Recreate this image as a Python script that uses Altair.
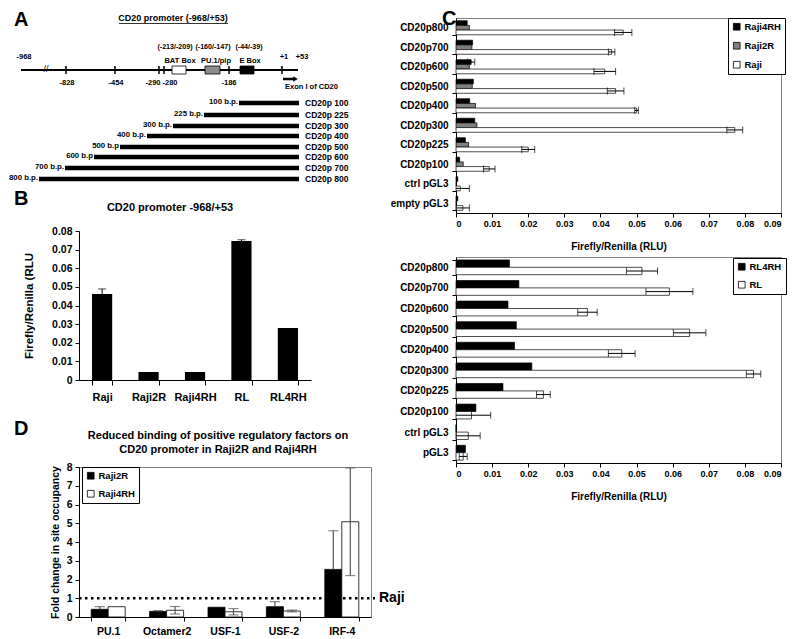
import altair as alt
import pandas as pd

FONT = "Liberation Sans"

# ---------------- Panel A: CD20 promoter map (schematic diagram coordinates) ----------------
a_title = "CD20 promoter (-968/+53)"
a_site_labels = ["-828", "-454", "-186"]
a_site_pos = [65, 114, 228]
a_site_pair_labels = ["-290", "-280"]
a_site_pair_pos = [158, 163]
a_tss_pos = 281
a_top_labels = ["-968", "+1", "+53"]
a_top_pos = [23, 283, 301]
a_element_names = ["BAT Box", "PU.1/pip", "E Box"]
a_element_coords = ["(-213/-209)", "(-160/-147)", "(-44/-39)"]
a_element_from = [171, 204, 239]
a_element_to = [185, 219, 253]
a_fragment_names = ["CD20p 100", "CD20p 225", "CD20p 300", "CD20p 400",
                    "CD20p 500", "CD20p 600", "CD20p 700", "CD20p 800"]
a_fragment_sizes = ["100 b.p.", "225 b.p.", "300 b.p.", "400 b.p.",
                    "500 b.p", "600 b.p", "700 b.p.", "800 b.p."]
a_fragment_from = [238, 203, 172, 146, 119, 93, 64, 38]
a_fragment_row = [100, 112, 123, 133, 144, 154, 165, 176]

# ---------------- Panel B ----------------
b_title = "CD20 promoter -968/+53"
b_lines = ["Raji", "Raji2R", "Raji4RH", "RL", "RL4RH"]
b_values = [0.0462, 0.0043, 0.0043, 0.0746, 0.0279]
b_errors = [0.0027, 0.0, 0.0, 0.0007, 0.0]
b_ticks = [0, 0.01, 0.02, 0.03, 0.04, 0.05, 0.06, 0.07, 0.08]

# ---------------- Panel C (top) ----------------
c_constructs = ["CD20p800", "CD20p700", "CD20p600", "CD20p500", "CD20p400",
                "CD20p300", "CD20p225", "CD20p100", "ctrl pGL3", "empty pGL3"]
c_series = ["Raji4RH", "Raji2R", "Raji"]
c_raji4rh = [0.0031, 0.0046, 0.0042, 0.0048, 0.0038, 0.0052, 0.0026, 0.0010, 0.0005, 0.0005]
c_raji4rh_err = [0, 0, 0.0010, 0, 0, 0, 0, 0, 0, 0]
c_raji2r = [0.0037, 0.0044, 0.0037, 0.0045, 0.0054, 0.0058, 0.0035, 0.0020, 0.0001, 0.0001]
c_raji2r_err = [0, 0, 0, 0, 0, 0, 0, 0, 0, 0]
c_raji = [0.0463, 0.0431, 0.0412, 0.0442, 0.0500, 0.0772, 0.0200, 0.0092, 0.0012, 0.0019]
c_raji_err = [0.0024, 0.0009, 0.0030, 0.0023, 0.0005, 0.0022, 0.0018, 0.0016, 0.0025, 0.0018]

# ---------------- Panel C (bottom) ----------------
cb_constructs = ["CD20p800", "CD20p700", "CD20p600", "CD20p500", "CD20p400",
                 "CD20p300", "CD20p225", "CD20p100", "ctrl pGL3", "pGL3"]
cb_series = ["RL4RH", "RL"]
cb_rl4rh = [0.0148, 0.0174, 0.0144, 0.0167, 0.0162, 0.0210, 0.0130, 0.0055, 0.0, 0.0026]
cb_rl4rh_err = [0, 0, 0, 0, 0, 0, 0, 0, 0, 0]
cb_rl = [0.0515, 0.0591, 0.0364, 0.0647, 0.0459, 0.0824, 0.0242, 0.0043, 0.0034, 0.0020]
cb_rl_err = [0.0043, 0.0065, 0.0027, 0.0045, 0.0037, 0.0020, 0.0019, 0.0053, 0.0033, 0.0011]
c_ticks = [0, 0.01, 0.02, 0.03, 0.04, 0.05, 0.06, 0.07, 0.08, 0.09]

# ---------------- Panel D ----------------
d_title = ["Reduced binding of positive regulatory factors on",
           "CD20 promoter in Raji2R and Raji4RH"]
d_factors = ["PU.1", "Octamer2", "USF-1", "USF-2", "IRF-4"]
d_series = ["Raji2R", "Raji4RH"]
d_raji2r = [0.41, 0.30, 0.52, 0.55, 2.54]
d_raji2r_err = [0.14, 0.04, 0.0, 0.27, 2.06]
d_raji4rh = [0.55, 0.36, 0.28, 0.32, 5.08]
d_raji4rh_err = [0.0, 0.20, 0.17, 0.05, 2.87]
d_ticks = [0, 1, 2, 3, 4, 5, 6, 7, 8]
d_reference = ["Raji"]

NUM_EXPR = "datum.value == 0 ? '0' : format(datum.value, '.2f')"

INDEP = dict(x="independent", y="independent", color="independent", fill="independent",
             xOffset="independent", yOffset="independent")


def text_chart(df, align="center", size=7.5, baseline="middle", dx=0, dy=0, weight="bold"):
    return alt.Chart(df).mark_text(align=align, baseline=baseline, fontSize=size,
                                   fontWeight=weight, font=FONT, dx=dx, dy=dy, color="black")


def const_text(label, x, y, size, align="left", baseline="alphabetic", line_height=None):
    kw = dict(align=align, baseline=baseline, fontSize=size, fontWeight="bold",
              font=FONT, color="black")
    if line_height is not None:
        kw["lineHeight"] = line_height
        kw["lineBreak"] = "|"
    return alt.Chart(pd.DataFrame({"t": [label]})).mark_text(**kw).encode(
        x=alt.value(x), y=alt.value(y), text="t:N")


def legend(x, y, row_pad):
    return alt.Legend(title=None, orient="none", legendX=x, legendY=y, fillColor="white",
                      strokeColor="black", padding=4, symbolType="square", symbolSize=45,
                      symbolStrokeColor="black", symbolStrokeWidth=0.8, labelFontSize=9.5,
                      rowPadding=row_pad, labelOffset=3)


# ======================= Panel A =======================
AX = alt.Scale(domain=[78, 330], nice=False, zero=False)
AY = alt.Scale(domain=[15, 141], nice=False, zero=False, reverse=True)


def ax(f):
    return alt.X(f, scale=AX, axis=None)


def ay(f):
    return alt.Y(f, scale=AY, axis=None)


def a_text(labels, xs, ys, **kw):
    return text_chart(pd.DataFrame({"t": labels, "x": xs, "y": ys}), **kw).encode(
        x=ax("x:Q"), y=ay("y:Q"), text="t:N")


LINE_Y = 67
a_layers = [
    a_text(["A"], [13], [23], align="left", size=20, baseline="alphabetic"),
    a_text([a_title], [172], [15], size=9),
    alt.Chart(pd.DataFrame({"x": [118], "x2": [227], "y": [20.5]}))
    .mark_rule(color="black", strokeWidth=0.8).encode(x=ax("x:Q"), x2="x2:Q", y=ay("y:Q")),
    alt.Chart(pd.DataFrame({"x": [20], "x2": [297], "y": [LINE_Y]}))
    .mark_rule(color="black", strokeWidth=2).encode(x=ax("x:Q"), x2="x2:Q", y=ay("y:Q")),
]
tick_pos = a_site_pos + a_site_pair_pos + [a_tss_pos]
a_layers.append(alt.Chart(pd.DataFrame({"x": tick_pos, "y": [LINE_Y - 4] * len(tick_pos),
                                        "y2": [LINE_Y + 4] * len(tick_pos)}))
                .mark_rule(color="black", strokeWidth=1.5)
                .encode(x=ax("x:Q"), y=ay("y:Q"), y2="y2:Q"))
a_layers.append(a_text(["//"], [45], [LINE_Y - 1], size=9, weight="normal"))
a_layers.append(alt.Chart(pd.DataFrame({"name": a_element_names, "x": a_element_from, "x2": a_element_to,
                                        "y": [LINE_Y - 4] * 3, "y2": [LINE_Y + 4] * 3}))
                .mark_rect(stroke="black", strokeWidth=0.8)
                .encode(x=ax("x:Q"), x2="x2:Q", y=ay("y:Q"), y2="y2:Q",
                        fill=alt.Fill("name:N", scale=alt.Scale(domain=a_element_names,
                                                                range=["white", "#8c8c8c", "black"]),
                                      legend=None)))
a_layers += [
    a_text(a_element_names, [179, 215, 249], [57.5] * 3),
    a_text(a_element_coords, [174, 212, 248], [44] * 3, size=7.1),
    a_text(a_top_labels, a_top_pos, [54] * 3),
    a_text(a_site_labels, [66, 115, 228], [80] * 3),
    a_text([a_site_pair_labels[0]], [159.5], [80], align="right"),
    a_text([a_site_pair_labels[1]], [161.5], [80], align="left"),
    alt.Chart(pd.DataFrame({"x": [282], "x2": [293], "y": [76]}))
    .mark_rule(color="black", strokeWidth=2.5).encode(x=ax("x:Q"), x2="x2:Q", y=ay("y:Q")),
    alt.Chart(pd.DataFrame({"x": [294.5], "y": [76]}))
    .mark_point(shape="triangle-right", filled=True, color="black", size=28, opacity=1)
    .encode(x=ax("x:Q"), y=ay("y:Q")),
    a_text(["Exon I of CD20"], [284], [84], align="left"),
]
frag_df = pd.DataFrame({"name": a_fragment_names, "size": a_fragment_sizes,
                        "x": a_fragment_from, "x2": [298] * 8, "y": a_fragment_row})
a_layers += [
    alt.Chart(frag_df).mark_rule(color="black", strokeWidth=4.5)
    .encode(x=ax("x:Q"), x2="x2:Q", y=ay("y:Q")),
    text_chart(frag_df, align="right", dx=-1, dy=-1, size=7.8)
    .encode(x=ax("x:Q"), y=ay("y:Q"), text="size:N"),
    text_chart(frag_df, align="left", dx=6, size=8.5)
    .encode(x=ax("x2:Q"), y=ay("y:Q"), text="name:N"),
]
panel_a = alt.layer(*a_layers).properties(width=252, height=126)

# ======================= Panel B =======================
b_df = pd.DataFrame({"line": b_lines, "value": b_values, "err": b_errors})
b_df["top"] = b_df["value"] + b_df["err"]
b_xs = alt.Scale(domain=b_lines, paddingInner=0.565, paddingOuter=0.28)
b_xa = alt.Axis(title=None, labelAngle=0, tickBand="extent", labelFontSize=11, tickSize=5,
                labelPadding=6)
b_ys = alt.Scale(domain=[0, 0.08], nice=False)
b_ya = alt.Axis(values=b_ticks, labelExpr=NUM_EXPR, title="Firefly/Renilla (RLU", titleFontSize=11.5,
                titlePadding=17, tickSize=4, labelPadding=3, labelFontSize=10.5)
b_base = alt.Chart(b_df).encode(x=alt.X("line:N", sort=b_lines, scale=b_xs, axis=b_xa))
b_bars = b_base.mark_bar(color="black").encode(y=alt.Y("value:Q", scale=b_ys, axis=b_ya))
b_err = b_base.transform_filter("datum.err > 0").mark_rule(color="black", strokeWidth=1).encode(
    y=alt.Y("value:Q", scale=b_ys, axis=b_ya), y2="top:Q")
b_cap = b_base.transform_filter("datum.err > 0").mark_tick(color="black", size=8, thickness=1).encode(
    y=alt.Y("top:Q", scale=b_ys, axis=b_ya))
panel_b = alt.layer(
    b_bars, b_err, b_cap,
    const_text("B", -65, -26, 20),
    const_text(b_title, 91, -23, 11, align="center", baseline="middle"),
).properties(width=232, height=149)

# ======================= Panel D =======================
d_rows = []
for i, f in enumerate(d_factors):
    v, e = d_raji2r[i], d_raji2r_err[i]
    d_rows.append({"factor": f, "series": "Raji2R", "value": v, "err": e, "lo": v, "hi": v + e})
    v, e = d_raji4rh[i], d_raji4rh_err[i]
    d_rows.append({"factor": f, "series": "Raji4RH", "value": v, "err": e, "lo": v - e, "hi": v + e})
d_df = pd.DataFrame(d_rows)
d_caps = pd.concat([
    d_df[d_df.err > 0].assign(pos=lambda d: d.hi),
    d_df[(d_df.err > 0) & (d_df.lo < d_df.value)].assign(pos=lambda d: d.lo),
])
d_xs = alt.Scale(domain=d_factors, paddingInner=0.418, paddingOuter=0.209)
d_xa = alt.Axis(title=None, labelAngle=0, tickBand="extent", labelFontSize=10.5, tickSize=4,
                labelPadding=5)
d_ys = alt.Scale(domain=[0, 8], nice=False)
d_ya = alt.Axis(values=d_ticks, title="Fold change in site occupancy", titleFontSize=10.5,
                titlePadding=6, tickSize=4, labelPadding=3, labelFontSize=10.5)
d_xo = alt.XOffset("series:N", scale=alt.Scale(domain=d_series, paddingInner=0, paddingOuter=0))
d_x = alt.X("factor:N", sort=d_factors, scale=d_xs, axis=d_xa)
d_bars = alt.Chart(d_df).mark_bar(stroke="black", strokeWidth=0.8).encode(
    x=d_x, xOffset=d_xo, y=alt.Y("value:Q", scale=d_ys, axis=d_ya),
    color=alt.Color("series:N", scale=alt.Scale(domain=d_series, range=["black", "white"]),
                    legend=legend(3, 0, 7)))
d_err = alt.Chart(d_df[d_df.err > 0]).mark_rule(color="#555555", strokeWidth=1.2).encode(
    x=d_x, xOffset=d_xo, y=alt.Y("lo:Q", scale=d_ys, axis=d_ya), y2="hi:Q")
d_cap = alt.Chart(d_caps).mark_tick(color="#555555", size=10, thickness=1.2).encode(
    x=d_x, xOffset=d_xo, y=alt.Y("pos:Q", scale=d_ys, axis=d_ya))
d_ref_df = pd.DataFrame({"level": [1.0], "name": d_reference})
d_dots = alt.Chart(d_ref_df).mark_rule(color="black", strokeWidth=2.5, strokeDash=[2.5, 3.5]).encode(
    y=alt.Y("level:Q", scale=d_ys, axis=d_ya), x=alt.value(0), x2=alt.value(296))
d_raji = alt.Chart(d_ref_df).mark_text(align="left", baseline="middle", fontSize=14, fontWeight="bold",
                                       font=FONT, color="black").encode(
    y=alt.Y("level:Q", scale=d_ys, axis=d_ya), x=alt.value(300), text="name:N")
panel_d = alt.layer(
    d_bars, d_err, d_cap, d_dots, d_raji,
    const_text("D", -65, -32, 20),
    const_text("|".join(d_title), 139, -31, 11, align="center", baseline="middle", line_height=14),
).properties(width=292, height=150, view=alt.ViewBackground(stroke="#808080", strokeWidth=1))


# ======================= Panel C =======================
def hbar_panel(constructs, series, values, errors, colors, height, legend_x, legend_y, row_pad,
               letter=None):
    rows = []
    for i, c in enumerate(constructs):
        for s, vals, errs in zip(series, values, errors):
            v, e = vals[i], errs[i]
            rows.append({"construct": c, "series": s, "value": v, "err": e,
                         "lo": max(v - e, 0.0), "hi": v + e})
    df = pd.DataFrame(rows)
    caps = pd.concat([
        df[df.err > 0].assign(pos=lambda d: d.hi),
        df[(df.err > 0) & (df.value - df.err > 0)].assign(pos=lambda d: d.lo),
    ])
    ys = alt.Scale(domain=constructs, paddingInner=0.28, paddingOuter=0.14)
    ya = alt.Axis(title=None, tickBand="extent", labelFontSize=10, tickSize=4, labelPadding=4)
    y = alt.Y("construct:N", sort=constructs, scale=ys, axis=ya)
    yo = alt.YOffset("series:N", scale=alt.Scale(domain=series, paddingInner=0, paddingOuter=0))
    xs = alt.Scale(domain=[0, 0.09], nice=False)
    xa = alt.Axis(values=c_ticks, labelExpr=NUM_EXPR, title="Firefly/Renilla (RLU)", titleFontSize=10,
                  titlePadding=13, tickSize=4, labelPadding=2, labelFontSize=9)
    bars = alt.Chart(df).mark_bar(stroke="black", strokeWidth=0.7).encode(
        y=y, yOffset=yo, x=alt.X("value:Q", scale=xs, axis=xa),
        color=alt.Color("series:N", scale=alt.Scale(domain=series, range=colors),
                        legend=legend(legend_x, legend_y, row_pad)))
    err = alt.Chart(df[df.err > 0]).mark_rule(color="black", strokeWidth=1).encode(
        y=y, yOffset=yo, x=alt.X("lo:Q", scale=xs, axis=xa), x2="hi:Q")
    cap = alt.Chart(caps).mark_tick(color="black", size=7, thickness=1).encode(
        y=y, yOffset=yo, x=alt.X("pos:Q", scale=xs, axis=xa))
    layers = [bars, err, cap]
    if letter:
        layers.append(const_text(letter, -14, 7, 20))
    return alt.layer(*layers).properties(
        width=325, height=height, view=alt.ViewBackground(stroke="#808080", strokeWidth=1))


panel_c_top = hbar_panel(c_constructs, c_series, [c_raji4rh, c_raji2r, c_raji],
                         [c_raji4rh_err, c_raji2r_err, c_raji_err], ["black", "#808080", "white"],
                         195, 272, 0, 8, letter="C")
panel_c_bot = hbar_panel(cb_constructs, cb_series, [cb_rl4rh, cb_rl], [cb_rl4rh_err, cb_rl_err],
                         ["black", "white"], 206, 277, 1, 7)

left = alt.vconcat(panel_a, panel_b, panel_d, spacing=87, bounds="flush").resolve_scale(**INDEP)
right = alt.vconcat(panel_c_top, panel_c_bot, spacing=44, bounds="flush").resolve_scale(**INDEP)

chart = alt.hconcat(left, right, spacing=-17).resolve_scale(**INDEP).properties(
    padding=0, background="white"
).configure(
    font=FONT
).configure_view(stroke="transparent").configure_axis(
    labelFont=FONT, titleFont=FONT, labelFontWeight="bold", titleFontWeight="bold",
    labelColor="black", titleColor="black", domainColor="black", tickColor="black", grid=False,
    domainWidth=1, tickWidth=1
).configure_legend(labelFont=FONT, labelFontWeight="bold", labelColor="black")

chart.save("out.html", embed_options={"renderer": "svg", "actions": False})
